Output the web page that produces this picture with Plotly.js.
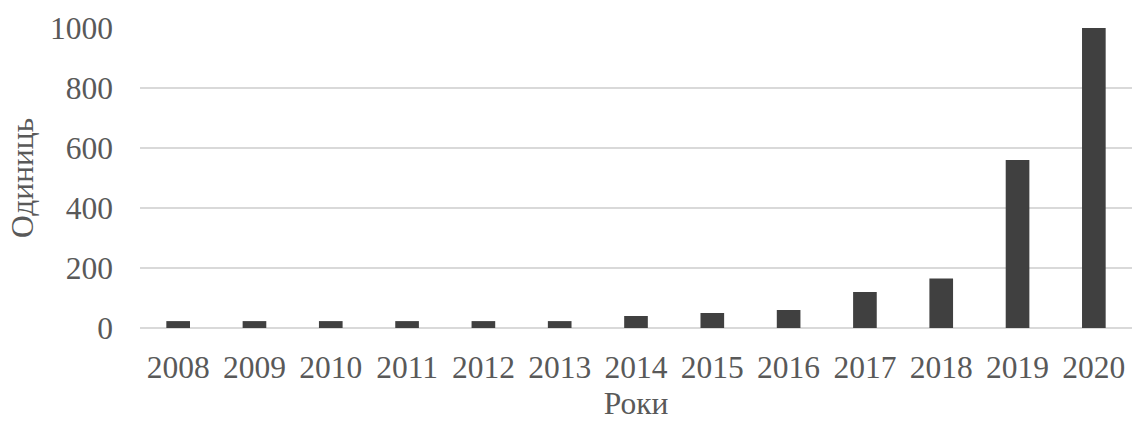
<!DOCTYPE html>
<html><head><meta charset="utf-8">
<script src="https://cdn.plot.ly/plotly-3.0.1.min.js"></script>
<style>html,body{margin:0;padding:0;background:#fff}</style>
</head><body>
<div id="chart" style="width:1132px;height:421px"></div>
<script>
const years = ["2008","2009","2010","2011","2012","2013","2014","2015","2016","2017","2018","2019","2020"];
const units = [23,23,23,23,23,23,40,50,60,120,165,560,1000];
const yTicks = [0,200,400,600,800,1000];
const xTitle = "Роки";
const yTitle = "Одиниць";

const font = {family:"Liberation Serif, Times New Roman, serif", size:31.5, color:"#595959"};
Plotly.newPlot("chart", [{
  type:"bar", x:years, y:units,
  marker:{color:"#404040", line:{color:"#404040", width:0}},
  hoverinfo:"x+y"
}], {
  width:1132, height:421,
  margin:{l:140, r:0, t:28, b:93},
  bargap:0.69,
  paper_bgcolor:"#fff", plot_bgcolor:"#fff",
  font:font,
  showlegend:false,
  xaxis:{
    type:"category", showgrid:false, zeroline:false, showline:false,
    ticks:"", tickfont:font, ticklabelstandoff:17,
    title:{text:xTitle, font:font, standoff:8}
  },
  yaxis:{
    range:[0,1000], tickvals:yTicks, ticktext:yTicks.map(String),
    showgrid:true, gridcolor:"#d9d9d9", gridwidth:1.5,
    zeroline:true, zerolinecolor:"#d9d9d9", zerolinewidth:1.5,
    showline:false, ticks:"", tickfont:font, ticklabelstandoff:26,
    title:{text:yTitle, font:font, standoff:6}
  }
}, {displayModeBar:false, staticPlot:true});
</script>
</body></html>
